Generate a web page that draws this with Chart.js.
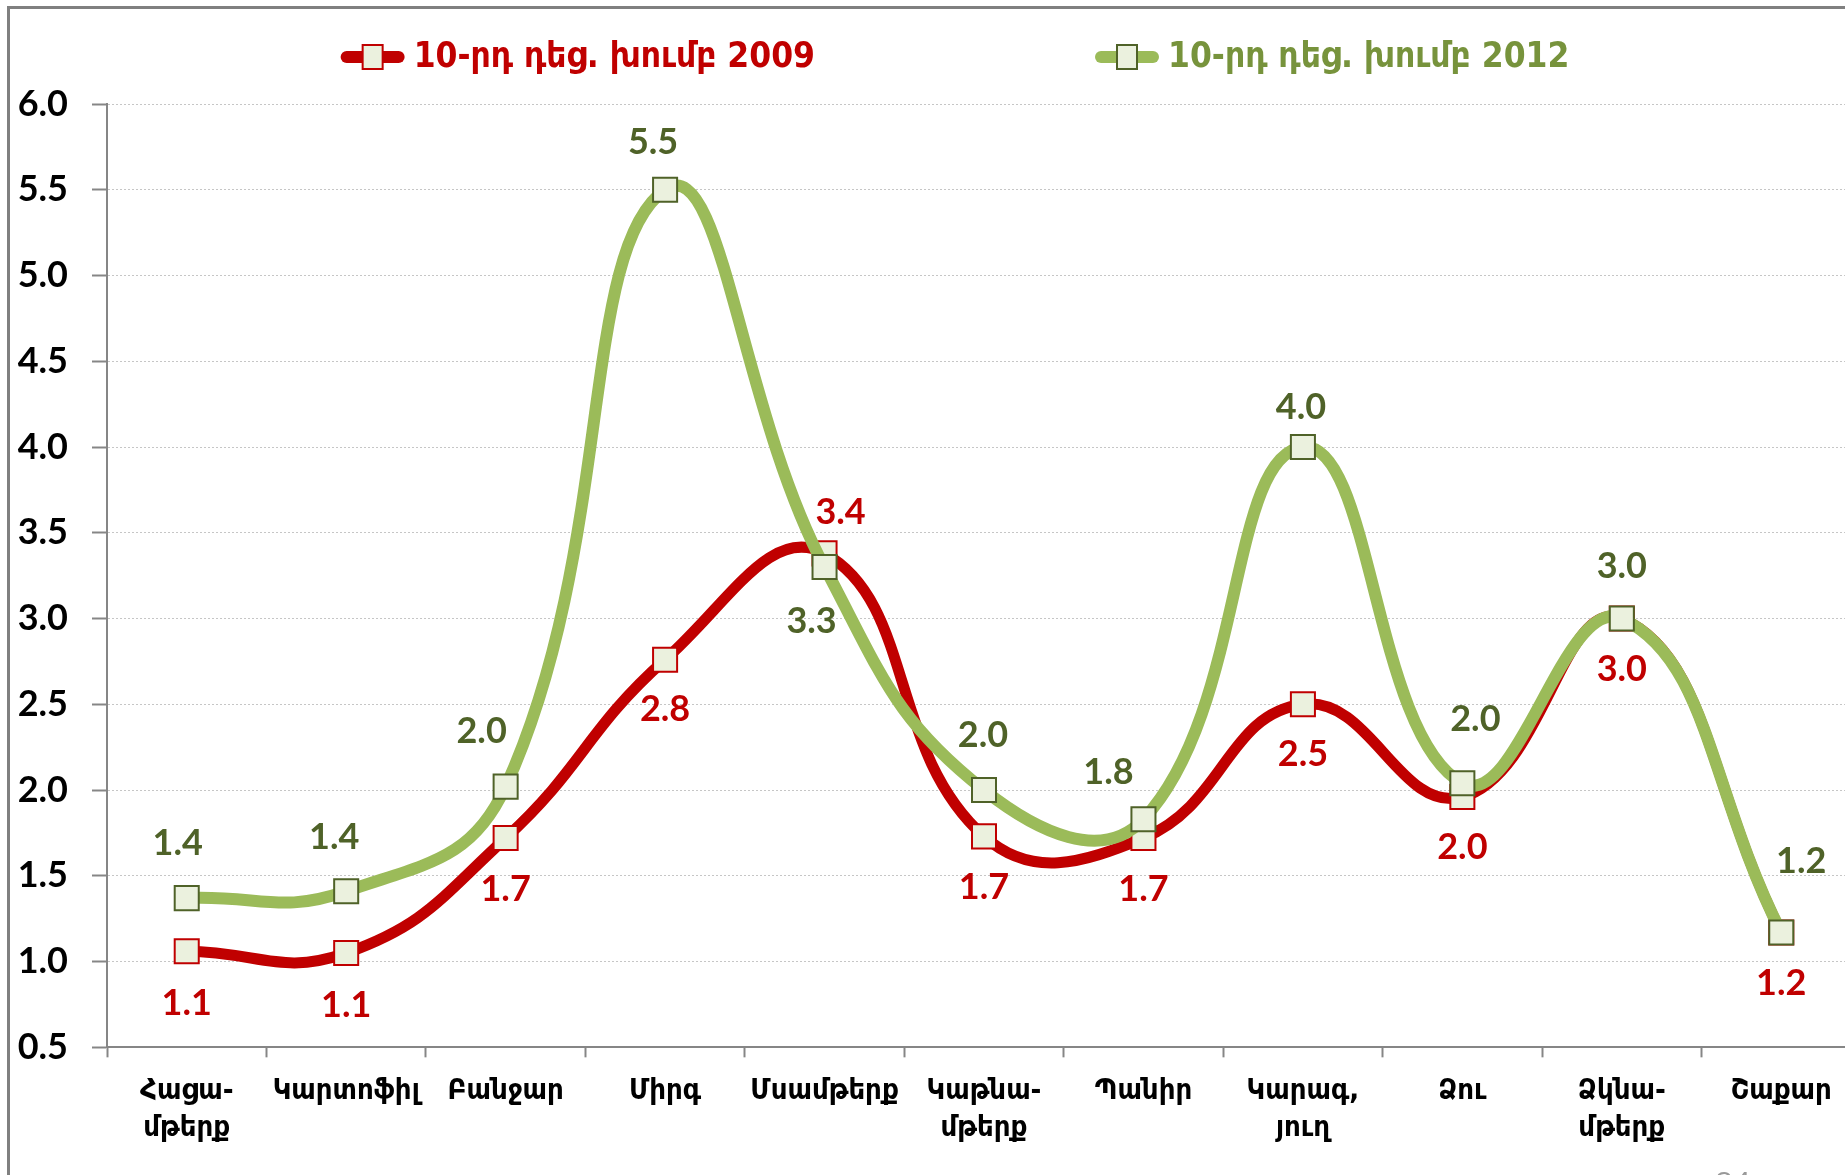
<!DOCTYPE html>
<html>
<head>
<meta charset="utf-8">
<script src="https://cdn.jsdelivr.net/npm/chart.js@4.4.0/dist/chart.umd.min.js"></script>
<style>
  html, body { margin: 0; padding: 0; background: #fff; overflow: hidden; }
  #wrap { position: relative; width: 1845px; height: 1175px; overflow: hidden; }
  #frame { position: absolute; left: 7px; top: 6px; width: 2000px; height: 2000px; border: 3px solid #808080; }
  #chart { position: absolute; left: 0; top: 0; }
  #page { position: absolute; left: 1716px; top: 1161px; font: 30px "Open Sans", sans-serif; color: #999; }
</style>
</head>
<body>
<div id="wrap">
  <div id="frame"></div>
  <canvas id="chart" width="1880" height="1175"></canvas>
  <div id="page">24</div>
</div>
<script>
const categories = [
  ["Հացա-", "մթերք"],
  "Կարտոֆիլ",
  "Բանջար",
  "Միրգ",
  "Մսամթերք",
  ["Կաթնա-", "մթերք"],
  "Պանիր",
  ["Կարագ,", "յուղ"],
  "Ձու",
  ["Ձկնա-", "մթերք"],
  "Շաքար",
];
const seriesNames = ["10-րդ դեց. խումբ 2009", "10-րդ դեց. խումբ 2012"];
const values2009 = [1.06, 1.05, 1.72, 2.76, 3.38, 1.73, 1.72, 2.50, 1.96, 3.00, 1.17];
const values2012 = [1.37, 1.41, 2.02, 5.50, 3.30, 2.00, 1.83, 4.00, 2.04, 3.00, 1.17];
const yMin = 0.5;
const yMax = 6.0;
const yStep = 0.5;

// where each value label sits relative to its point (px)
const labelOffsets2009 = [[0, 52], [0, 52], [0, 51], [0, 50], [16, -41], [0, 51], [0, 51], [0, 50], [0, 50], [0, 51], [0, 51]];
const labelOffsets2012 = [[-9, -55], [-12, -54], [-24, -55], [-12, -47], [-13, 54], [-1, -55], [-35, -47], [-2, -40], [13, -64], [0, -52], [20, -71]];

const RED = "#C00000";
const GREEN = "#9BBB59";
const GREEN_DARK = "#4F6228";
const GREEN_TEXT = "#77933C";
const MARKER_FILL = "#EBF1DE";
const AXIS = "#868686";
const NUM_FONT = "Lato, 'DejaVu Sans', sans-serif";
const ARM_FONT = "'DejaVu Sans Condensed', 'DejaVu Sans', sans-serif";

const valueLabels = {
  id: "valueLabels",
  afterDatasetsDraw(chart) {
    const { ctx } = chart;
    chart.data.datasets.forEach((ds, di) => {
      const meta = chart.getDatasetMeta(di);
      meta.data.forEach((pt, i) => {
        const [dx, dy] = ds.labelOffsets[i];
        ctx.save();
        ctx.font = "bold 36px " + NUM_FONT;
        ctx.fillStyle = ds.labelColor;
        ctx.textAlign = "center";
        ctx.textBaseline = "middle";
        ctx.fillText(ds.data[i].toFixed(1), pt.x + dx, pt.y + dy);
        ctx.restore();
      });
    });
  },
};

const legendPlugin = {
  id: "lineLegend",
  afterDraw(chart) {
    const { ctx } = chart;
    const sampleW = 64;
    const gapText = 9;
    const gapItems = 280;
    const y = 57;
    ctx.save();
    ctx.font = "bold 35px " + ARM_FONT;
    const items = chart.data.datasets.map((ds) => ({
      ds,
      w: sampleW + gapText + ctx.measureText(ds.label).width,
    }));
    const total = items.reduce((s, it) => s + it.w, 0) + gapItems * (items.length - 1);
    let x = chart.width / 2 + 15 - total / 2;
    items.forEach(({ ds, w }) => {
      ctx.lineCap = "round";
      ctx.lineWidth = 12;
      ctx.strokeStyle = ds.borderColor;
      ctx.beginPath();
      ctx.moveTo(x + 6, y);
      ctx.lineTo(x + sampleW - 6, y);
      ctx.stroke();
      ctx.fillStyle = MARKER_FILL;
      ctx.lineWidth = 2;
      ctx.strokeStyle = ds.pointBorderColor;
      ctx.fillRect(x + sampleW / 2 - 10, y - 12, 20, 24);
      ctx.strokeRect(x + sampleW / 2 - 10, y - 12, 20, 24);
      ctx.fillStyle = ds.legendColor;
      ctx.textAlign = "left";
      ctx.textBaseline = "middle";
      ctx.fillText(ds.label, x + sampleW + gapText, y + 1);
      x += w + gapItems;
    });
    ctx.restore();
  },
};

new Chart(document.getElementById("chart"), {
  type: "line",
  data: {
    labels: categories,
    datasets: [
      {
        label: seriesNames[0],
        data: values2009,
        borderColor: RED,
        borderWidth: 11,
        pointStyle: "rect",
        pointRadius: 17,
        pointHoverRadius: 17,
        pointBackgroundColor: MARKER_FILL,
        pointBorderColor: RED,
        pointBorderWidth: 2,
        tension: 0.45,
        order: 1,
        labelColor: RED,
        legendColor: RED,
        labelOffsets: labelOffsets2009,
      },
      {
        label: seriesNames[1],
        data: values2012,
        borderColor: GREEN,
        borderWidth: 12,
        pointStyle: "rect",
        pointRadius: 17,
        pointHoverRadius: 17,
        pointBackgroundColor: MARKER_FILL,
        pointBorderColor: GREEN_DARK,
        pointBorderWidth: 2,
        tension: 0.45,
        order: 0,
        labelColor: GREEN_DARK,
        legendColor: GREEN_TEXT,
        labelOffsets: labelOffsets2012,
      },
    ],
  },
  options: {
    responsive: false,
    maintainAspectRatio: false,
    animation: false,
    layout: { padding: { top: 104, left: 17, right: 15, bottom: 12 } },
    plugins: {
      legend: { display: false },
      tooltip: { enabled: false },
    },
    scales: {
      x: {
        offset: true,
        grid: {
          display: true,
          drawOnChartArea: false,
          offset: true,
          tickLength: 10,
          tickColor: AXIS,
          tickWidth: 2,
        },
        border: { color: AXIS, width: 2 },
        ticks: {
          autoSkip: false,
          maxRotation: 0,
          padding: 16,
          color: "#000",
          font: { family: ARM_FONT, size: 29, weight: "bold", lineHeight: 1.27 },
        },
      },
      y: {
        min: yMin,
        max: yMax,
        afterFit(scale) {
          scale.width = 90;
        },
        ticks: {
          stepSize: yStep,
          padding: 24,
          color: "#000",
          callback: (v) => v.toFixed(1),
          font: { family: NUM_FONT, size: 36, weight: "bold" },
        },
        grid: {
          color: "#c6c6c6",
          lineWidth: 1,
          tickColor: AXIS,
          tickLength: 15,
          tickWidth: 2,
          tickBorderDash: [],
        },
        border: { color: AXIS, width: 2, dash: [2, 2] },
      },
    },
  },
  plugins: [valueLabels, legendPlugin],
});
</script>
</body>
</html>
